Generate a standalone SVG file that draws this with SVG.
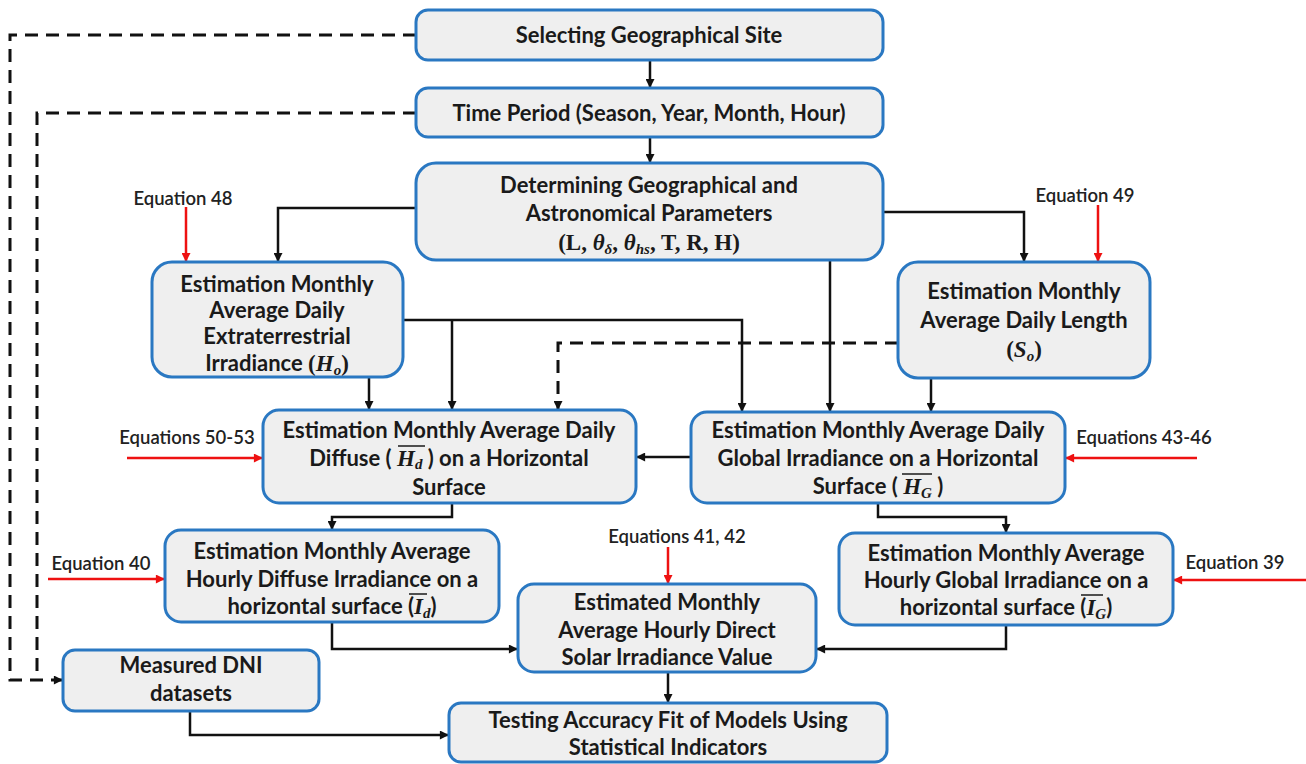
<svg xmlns="http://www.w3.org/2000/svg" width="1306" height="764" viewBox="0 0 1306 764">
<defs>
<style>
.box{fill:#efefef;stroke:#2a78c2;stroke-width:3}
.t{font-family:Lato,"Liberation Sans",sans-serif;font-weight:bold;font-size:22px;fill:#1a1a1a;text-anchor:middle}
.m{font-family:"Liberation Serif","DejaVu Serif",serif;font-style:italic;font-weight:bold;font-size:23px}
.mr{font-family:"Liberation Serif","DejaVu Serif",serif;font-weight:bold;font-size:23px}
.s{font-size:15px}
.eq{font-family:Lato,"Liberation Sans",sans-serif;font-size:18.5px;fill:#222;text-anchor:middle;font-weight:600}
.c{fill:none;stroke:#111;stroke-width:2.5}
.d{fill:none;stroke:#111;stroke-width:3;stroke-dasharray:13 8}
.r{fill:none;stroke:#ee1111;stroke-width:2.5}
.ol{stroke:#1a1a1a;stroke-width:1.5}
</style>
<marker id="ab" viewBox="0 0 10 10" refX="9" refY="5" markerWidth="10" markerHeight="9" orient="auto" markerUnits="userSpaceOnUse"><path d="M0,0L10,5L0,10z" fill="#111"/></marker>
<marker id="ar" viewBox="0 0 10 10" refX="9" refY="5" markerWidth="10" markerHeight="9" orient="auto" markerUnits="userSpaceOnUse"><path d="M0,0L10,5L0,10z" fill="#ee1111"/></marker>
</defs>
<rect width="1306" height="764" fill="#fff"/>

<g id="connectors">
<path class="c" d="M650,60V87" marker-end="url(#ab)"/>
<path class="c" d="M650,137V162" marker-end="url(#ab)"/>
<path class="c" d="M416,208H278V261" marker-end="url(#ab)"/>
<path class="c" d="M883,212H1024V261" marker-end="url(#ab)"/>
<path class="c" d="M830,260V411" marker-end="url(#ab)"/>
<path class="c" d="M403,320H742V411" marker-end="url(#ab)"/>
<path class="c" d="M452,320V409" marker-end="url(#ab)"/>
<path class="c" d="M369,377V409" marker-end="url(#ab)"/>
<path class="d" d="M898,343H558V409" marker-end="url(#ab)"/>
<path class="c" d="M931,378V411" marker-end="url(#ab)"/>
<path class="c" d="M691,457H637" marker-end="url(#ab)"/>
<path class="c" d="M452,503V517H332V529" marker-end="url(#ab)"/>
<path class="c" d="M878,503V517H1006V532" marker-end="url(#ab)"/>
<path class="c" d="M332,622V649H517" marker-end="url(#ab)"/>
<path class="c" d="M1006,625V649H817" marker-end="url(#ab)"/>
<path class="c" d="M668,672V702" marker-end="url(#ab)"/>
<path class="c" d="M190,711V735H448" marker-end="url(#ab)"/>
<path class="d" d="M416,35H10V680H62" marker-end="url(#ab)"/>
<path class="d" d="M416,113H37V680"/>
<path class="r" d="M186,207V261" marker-end="url(#ar)"/>
<path class="r" d="M1098,205V261" marker-end="url(#ar)"/>
<path class="r" d="M127,458H262" marker-end="url(#ar)"/>
<path class="r" d="M1197,458H1066" marker-end="url(#ar)"/>
<path class="r" d="M48,579H164" marker-end="url(#ar)"/>
<path class="r" d="M668,547V583" marker-end="url(#ar)"/>
<path class="r" d="M1306,580H1174" marker-end="url(#ar)"/>
</g>

<g id="labels">
<text class="eq" x="183" y="205">Equation  48</text>
<text class="eq" x="1085" y="202">Equation  49</text>
<text class="eq" x="187" y="444">Equations  50-53</text>
<text class="eq" x="1144" y="444">Equations  43-46</text>
<text class="eq" x="101" y="570">Equation  40</text>
<text class="eq" x="677" y="543">Equations  41, 42</text>
<text class="eq" x="1235" y="569">Equation  39</text>
</g>

<g id="n1"><rect class="box" x="416" y="10" width="467" height="50" rx="12"/>
<text class="t" x="649" y="43">Selecting Geographical Site</text></g>

<g id="n2"><rect class="box" x="416" y="88" width="467" height="49" rx="12"/>
<text class="t" x="649" y="121">Time Period  (Season, Year, Month, Hour)</text></g>

<g id="n3"><rect class="box" x="416" y="163" width="467" height="97" rx="20"/>
<text class="t" x="649" y="193">Determining Geographical and</text>
<text class="t" x="649" y="221">Astronomical Parameters</text>
<text class="t" x="649" y="250"><tspan class="mr">(L, </tspan><tspan class="m">θ</tspan><tspan class="m s" dy="4">δ</tspan><tspan class="mr" dy="-4">, </tspan><tspan class="m">θ</tspan><tspan class="m s" dy="4">hs</tspan><tspan class="mr" dy="-4">, T, R, H)</tspan></text></g>

<g id="n4"><rect class="box" x="152" y="262" width="251" height="115" rx="20"/>
<text class="t" x="277" y="292">Estimation Monthly</text>
<text class="t" x="277" y="318">Average Daily</text>
<text class="t" x="277" y="344">Extraterrestrial</text>
<text class="t" x="277" y="371">Irradiance <tspan class="mr">(</tspan><tspan class="m">H</tspan><tspan class="m s" dy="4">o</tspan><tspan class="mr" dy="-4">)</tspan></text></g>

<g id="n5"><rect class="box" x="898" y="262" width="252" height="116" rx="20"/>
<text class="t" x="1024" y="299">Estimation Monthly</text>
<text class="t" x="1024" y="328">Average Daily Length</text>
<text class="t" x="1024" y="357"><tspan class="mr">(</tspan><tspan class="m">S</tspan><tspan class="m s" dy="4">o</tspan><tspan class="mr" dy="-4">)</tspan></text></g>

<g id="n6"><rect class="box" x="263" y="410" width="373" height="93" rx="16"/>
<text class="t" x="449" y="438">Estimation Monthly Average Daily</text>
<text class="t" x="449" y="466">Diffuse ( <tspan class="m">H</tspan><tspan class="m s" dy="3">d</tspan><tspan dy="-3"> ) on a Horizontal</tspan></text>
<line class="ol" x1="398" y1="446" x2="425" y2="446"/>
<text class="t" x="449" y="495">Surface</text></g>

<g id="n7"><rect class="box" x="691" y="412" width="374" height="91" rx="16"/>
<text class="t" x="878" y="438">Estimation Monthly Average Daily</text>
<text class="t" x="878" y="466">Global Irradiance on  a Horizontal</text>
<text class="t" x="878" y="494">Surface ( <tspan class="m">H</tspan><tspan class="m s" dy="4">G</tspan><tspan dy="-4"> )</tspan></text>
<line class="ol" x1="902" y1="474" x2="932" y2="474"/></g>

<g id="n8"><rect class="box" x="165" y="530" width="334" height="92" rx="16"/>
<text class="t" x="332" y="559">Estimation Monthly Average</text>
<text class="t" x="332" y="587">Hourly Diffuse Irradiance on a</text>
<text class="t" x="332" y="614">horizontal surface (<tspan class="m">I</tspan><tspan class="m s" dy="4">d</tspan><tspan dy="-4">)</tspan></text>
<line class="ol" x1="409" y1="594" x2="427" y2="594"/></g>

<g id="n9"><rect class="box" x="518" y="584" width="298" height="88" rx="16"/>
<text class="t" x="667" y="610">Estimated Monthly</text>
<text class="t" x="667" y="638">Average Hourly Direct</text>
<text class="t" x="667" y="665">Solar Irradiance  Value</text></g>

<g id="n10"><rect class="box" x="839" y="533" width="334" height="92" rx="16"/>
<text class="t" x="1006" y="561">Estimation Monthly Average</text>
<text class="t" x="1006" y="588">Hourly Global Irradiance on a</text>
<text class="t" x="1006" y="615">horizontal surface (<tspan class="m">I</tspan><tspan class="m s" dy="4">G</tspan><tspan dy="-4">)</tspan></text>
<line class="ol" x1="1081" y1="595" x2="1103" y2="595"/></g>

<g id="n11"><rect class="box" x="63" y="650" width="256" height="61" rx="12"/>
<text class="t" x="191" y="673">Measured DNI</text>
<text class="t" x="191" y="701">datasets</text></g>

<g id="n12"><rect class="box" x="449" y="703" width="438" height="59" rx="12"/>
<text class="t" x="668" y="728">Testing Accuracy Fit of Models Using</text>
<text class="t" x="668" y="755">Statistical Indicators</text></g>
</svg>
